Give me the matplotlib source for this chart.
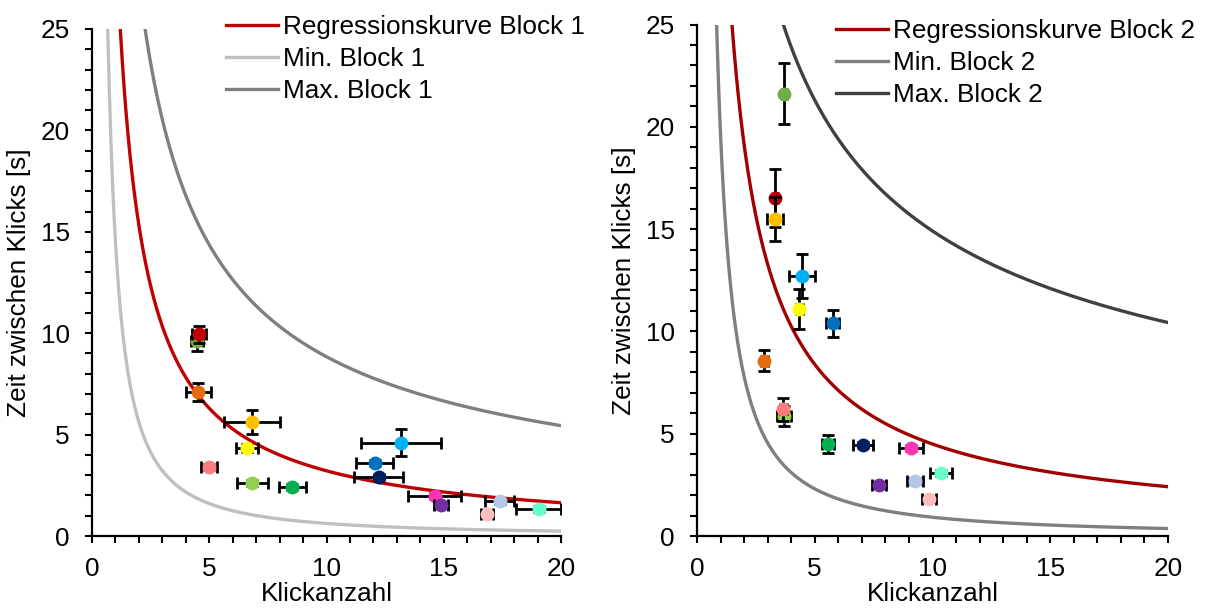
import numpy as np
import matplotlib
matplotlib.use("Agg")
import matplotlib.pyplot as plt
from matplotlib.ticker import MultipleLocator

plt.rcParams['font.family'] = ['Liberation Sans', 'DejaVu Sans']

# Participant colours (same order in both blocks)
colors = ["#70AD47", "#C00000", "#E46C0A", "#FFC000", "#FFFF00", "#92D050",
          "#FF7C80", "#00B050", "#00B0F0", "#0070C0", "#002060", "#FF33B4",
          "#7030A0", "#B4C7E7", "#FFBDBD", "#66FFCC"]

# Block 1: mean click count, mean time between clicks, and their spreads
b1_x = [4.47, 4.58, 4.54, 6.84, 6.62, 6.84, 4.99, 8.55, 13.19, 12.05, 12.22, 14.61, 14.88, 17.38, 16.85, 19.05]
b1_y = [9.62, 9.94, 7.12, 5.61, 4.35, 2.60, 3.40, 2.43, 4.60, 3.62, 2.93, 1.99, 1.53, 1.73, 1.08, 1.32]
b1_xerr = [0.25, 0.30, 0.53, 1.19, 0.48, 0.67, 0.33, 0.57, 1.71, 0.79, 1.05, 1.12, 0.28, 0.63, 0.25, 0.97]
b1_yerr = [0.50, 0.40, 0.44, 0.59, 0.20, 0.15, 0.15, 0.15, 0.67, 0.15, 0.15, 0.15, 0.15, 0.15, 0.15, 0.15]

# Block 2
b2_x = [3.71, 3.33, 2.85, 3.33, 4.34, 3.71, 3.67, 5.55, 4.47, 5.76, 7.06, 9.07, 7.73, 9.26, 9.85, 10.35]
b2_y = [21.62, 16.50, 8.57, 15.49, 11.11, 5.87, 6.19, 4.50, 12.71, 10.40, 4.45, 4.29, 2.49, 2.69, 1.81, 3.06]
b2_xerr = [0.10, 0.10, 0.15, 0.34, 0.15, 0.30, 0.15, 0.25, 0.55, 0.27, 0.42, 0.51, 0.31, 0.33, 0.30, 0.47]
b2_yerr = [1.49, 1.42, 0.51, 1.06, 0.98, 0.49, 0.57, 0.44, 1.06, 0.65, 0.15, 0.15, 0.15, 0.15, 0.15, 0.15]

# Power-law curves y = a * x^(-b): (a, b)
b1_reg = (30.0, 0.97)
b1_min = (14.5, 1.37)
b1_max = (44.3, 0.70)
b2_reg = (35.7, 0.90)
b2_min = (19.6, 1.33)
b2_max = (48.8, 0.515)

FS = 18.8
W, H = 1208, 610
fig = plt.figure(figsize=(W / 100, H / 100), dpi=100)
ax1 = fig.add_axes([92 / W, 74 / H, 469 / W, 507 / H])
ax2 = fig.add_axes([697 / W, 74 / H, 471 / W, 511.5 / H])

xs = np.linspace(0.2, 20, 2000)


def power(p, x):
    return p[0] * x ** (-p[1])


def style(ax):
    ax.set_xlim(0, 20)
    ax.set_ylim(0, 25)
    ax.xaxis.set_major_locator(MultipleLocator(5))
    ax.xaxis.set_minor_locator(MultipleLocator(1))
    ax.yaxis.set_major_locator(MultipleLocator(5))
    ax.yaxis.set_minor_locator(MultipleLocator(1))
    for s in ("top", "right"):
        ax.spines[s].set_visible(False)
    for s in ("left", "bottom"):
        ax.spines[s].set_linewidth(1.6)
    ax.tick_params(which="both", direction="out", width=1.5, labelsize=FS)
    ax.tick_params(which="major", length=5)
    ax.tick_params(which="minor", length=5)
    ax.tick_params(axis="x", which="major", pad=10)
    ax.tick_params(axis="y", which="major", pad=11)
    ax.set_xlabel("Klickanzahl", fontsize=FS, labelpad=1)
    ax.set_ylabel("Zeit zwischen Klicks [s]", fontsize=FS, labelpad=7)


def draw_points(ax, x, y, xerr, yerr):
    for i in range(len(x)):
        z = 3 + i * 0.01
        ax.errorbar(x[i], y[i], xerr=xerr[i], yerr=yerr[i], fmt="none",
                    ecolor="black", elinewidth=2.0, capsize=4, capthick=2.0,
                    zorder=z)
        ax.plot(x[i], y[i], "o", color=colors[i], markersize=10,
                markeredgewidth=0, zorder=z + 0.005)


def draw_block(ax, reg, mn, mx, cols, labels, x, y, xerr, yerr, lx, ly):
    h1, = ax.plot(xs, power(reg, xs), color=cols[0], lw=2.4, label=labels[0])
    h2, = ax.plot(xs, power(mn, xs), color=cols[1], lw=2.4, label=labels[1])
    h3, = ax.plot(xs, power(mx, xs), color=cols[2], lw=2.4, label=labels[2])
    draw_points(ax, x, y, xerr, yerr)
    style(ax)
    ax.legend(handles=[h1, h2, h3], loc="upper left", bbox_to_anchor=(lx, ly),
              bbox_transform=fig.transFigure, frameon=False, fontsize=FS,
              borderpad=0, borderaxespad=0, handlelength=2.0,
              handletextpad=0.2, labelspacing=0.3)


draw_block(ax1, b1_reg, b1_min, b1_max, ["#C00000", "#BFBFBF", "#7F7F7F"],
           ["Regressionskurve Block 1", "Min. Block 1", "Max. Block 1"],
           b1_x, b1_y, b1_xerr, b1_yerr, 226 / W, 1 - 15 / H)
draw_block(ax2, b2_reg, b2_min, b2_max, ["#A00000", "#7F7F7F", "#404040"],
           ["Regressionskurve Block 2", "Min. Block 2", "Max. Block 2"],
           b2_x, b2_y, b2_xerr, b2_yerr, 836 / W, 1 - 19 / H)

fig.savefig("out.png", dpi=100)
